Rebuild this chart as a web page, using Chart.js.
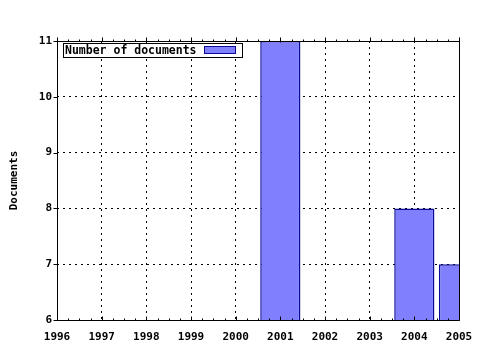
<!DOCTYPE html>
<html>
<head>
<meta charset="utf-8">
<script src="https://cdn.jsdelivr.net/npm/chart.js@4"></script>
<style>
  body { margin: 0; background: #fff; }
  #wrap { width: 480px; height: 350px; }
</style>
</head>
<body>
<div id="wrap"><canvas id="docs" width="480" height="350"></canvas></div>
<script>
let years = [2001, 2004, 2005];
let docCounts = [11, 8, 7];
let seriesLabel = 'Number of documents';
let yTitle = 'Documents';
let xMin = 1996, xMax = 2005;
let yMin = 6, yMax = 11;

let monoFont = { family: 'DejaVu Sans Mono', size: 11, weight: 'bold' };

// frame, outward ticks and the boxed legend, drawn gnuplot-style
let framePlugin = {
    id: 'frame',
    afterDatasetsDraw: function (chart) {
        let ctx = chart.ctx;
        let a = chart.chartArea;
        let xs = chart.scales.x;
        let ys = chart.scales.y;
        ctx.save();
        ctx.strokeStyle = '#000';
        ctx.lineWidth = 1;
        ctx.beginPath();
        ctx.moveTo(a.left + 0.5, a.top + 0.5);
        ctx.lineTo(a.left + 0.5, a.bottom + 0.5);
        ctx.lineTo(a.right + 0.5, a.bottom + 0.5);
        ctx.moveTo(a.left + 0.5, a.top + 0.5);
        ctx.lineTo(a.right + 0.5, a.top + 0.5);
        ctx.lineTo(a.right + 0.5, a.bottom + 0.5);
        // x ticks, major each year and minor each quarter
        for (let v = xMin; v <= xMax + 0.001; v += 0.25) {
            let px = Math.round(xs.getPixelForValue(v)) + 0.5;
            let len = Math.abs(v - Math.round(v)) < 0.001 ? 4 : 2;
            ctx.moveTo(px, a.top + 0.5);
            ctx.lineTo(px, a.top + 0.5 - len);
            ctx.moveTo(px, a.bottom + 0.5);
            ctx.lineTo(px, a.bottom + 0.5 - len);
        }
        for (let v = yMin; v <= yMax; v++) {
            let py = Math.round(ys.getPixelForValue(v)) + 0.5;
            ctx.moveTo(a.left + 0.5, py);
            ctx.lineTo(a.left - 3.5, py);
        }
        ctx.stroke();

        // legend box
        let bx = 63.5, by = 43.5, bw = 179, bh = 14;
        ctx.fillStyle = '#fff';
        ctx.fillRect(bx, by, bw, bh);
        ctx.strokeRect(bx, by, bw, bh);
        ctx.fillStyle = '#000';
        ctx.font = 'bold 11.5px "DejaVu Sans Mono"';
        ctx.textBaseline = 'middle';
        ctx.textAlign = 'left';
        ctx.fillText(seriesLabel, 65, by + bh / 2 + 0.5);
        let ds = chart.data.datasets[0];
        ctx.fillStyle = ds.backgroundColor;
        ctx.fillRect(204.5, 46.5, 31, 7);
        ctx.strokeStyle = ds.borderColor;
        ctx.strokeRect(204.5, 46.5, 31, 7);
        ctx.restore();
    }
};

var ctxDocs = document.getElementById('docs').getContext('2d');
var docsChart = new Chart(ctxDocs, {
    type: 'bar',
    data: {
        datasets: [{
            label: seriesLabel,
            data: years.map(function (y, i) { return { x: y, y: docCounts[i] }; }),
            backgroundColor: '#8080ff',
            borderColor: '#0a0a96',
            borderWidth: 1.5,
            borderSkipped: false,
            categoryPercentage: 1,
            barPercentage: 0.9
        }]
    },
    options: {
        responsive: false,
        animation: false,
        layout: { padding: { left: 0, top: 41, right: 21, bottom: 0 } },
        scales: {
            x: {
                type: 'linear',
                offset: false,
                min: xMin,
                max: xMax,
                afterFit: function (s) {
                    s.height = 30;
                    s.paddingLeft = 0;
                    s.paddingRight = 0;
                },
                ticks: {
                    stepSize: 1,
                    color: '#000',
                    font: monoFont,
                    padding: 11,
                    maxRotation: 0,
                    autoSkip: false,
                    callback: function (v) { return String(v); }
                },
                grid: {
                    offset: false,
                    color: '#000',
                    lineWidth: 1,
                    drawTicks: false
                },
                border: { display: false, dash: [2, 4] }
            },
            y: {
                min: yMin,
                max: yMax,
                afterFit: function (s) {
                    s.width = 57;
                    s.paddingTop = 0;
                    s.paddingBottom = 0;
                },
                title: {
                    display: true,
                    text: yTitle,
                    color: '#000',
                    font: monoFont,
                    padding: { top: 8, bottom: 0 }
                },
                ticks: {
                    stepSize: 1,
                    color: '#000',
                    font: monoFont,
                    padding: 5
                },
                grid: {
                    color: '#000',
                    lineWidth: 1,
                    drawTicks: false
                },
                border: { display: false, dash: [2, 4] }
            }
        },
        plugins: {
            legend: { display: false },
            tooltip: { enabled: false }
        }
    },
    plugins: [framePlugin]
});
</script>
</body>
</html>
